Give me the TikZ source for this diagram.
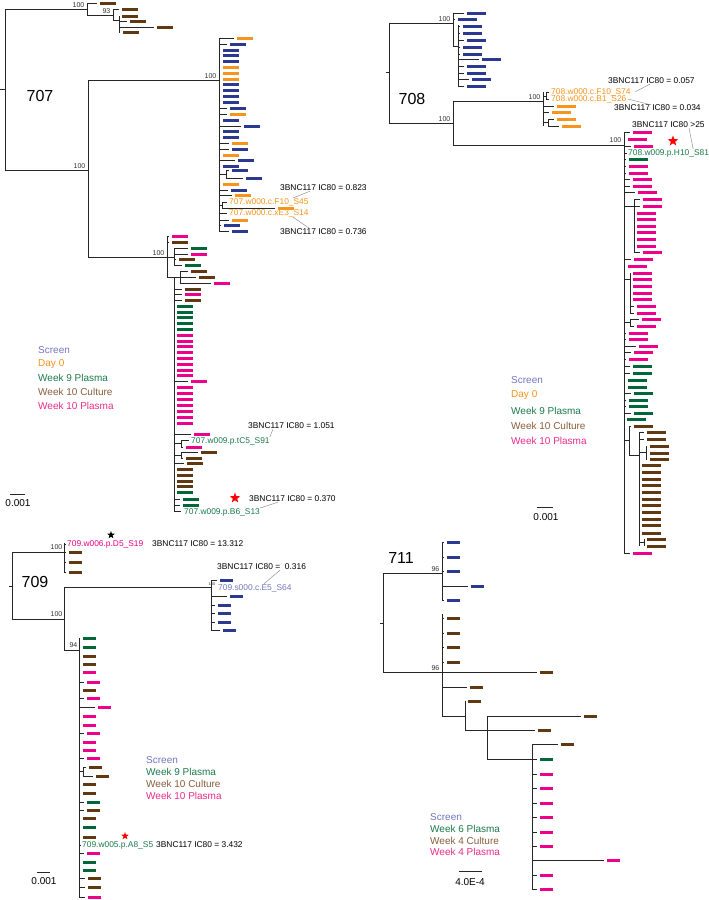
\documentclass[tikz,border=0pt]{standalone}
\usepackage{fontspec}
\setmainfont{Liberation Sans}
\usetikzlibrary{shapes.geometric}

\definecolor{blu}{RGB}{43,57,144}
\definecolor{orng}{RGB}{247,148,29}
\definecolor{grn}{RGB}{0,104,56}
\definecolor{brn}{RGB}{96,57,19}
\definecolor{pnk}{RGB}{236,0,140}
\definecolor{lscr}{RGB}{115,117,192}
\definecolor{lgrn}{RGB}{27,123,75}
\definecolor{lbrn}{RGB}{139,94,60}
\definecolor{lpnk}{RGB}{236,44,140}

\tikzset{
  br/.style={line width=0.9pt, black!85},
  seqbar/.style={line width=3pt, draw=#1},
  lead/.style={line width=0.4pt, gray},
  boot/.style={font=\fontsize{7}{8}\selectfont, anchor=south east, inner sep=0.5pt, black!80},
  seqlab/.style={font=\fontsize{8.4}{9}\selectfont, anchor=west, inner sep=0pt},
  ic/.style={font=\fontsize{8.4}{9}\selectfont, anchor=west, inner sep=0pt},
  leg/.style={font=\fontsize{10}{12}\selectfont, anchor=west, inner sep=0pt},
  pid/.style={font=\fontsize{16}{18}\selectfont, inner sep=0pt},
  sclab/.style={font=\fontsize{10}{12}\selectfont, inner sep=0pt},
  redstar/.style={star, star points=5, star point ratio=2.4, fill=red, inner sep=0pt, minimum size=#1},
}
\def\barlen{16}
% one tip: y, node x, bar start, colour
\newcommand{\lf}[4]{%
  \pgfmathsetmacro{\brend}{#3-3}%
  \ifdim\brend pt>#2pt \draw[br] (#2,#1) -- (\brend,#1);\fi
  \draw[seqbar=#4] (#3,#1) -- ++(\barlen,0);}

\begin{document}
\begin{tikzpicture}[x=1pt, y=-1pt]
    \fill[white] (0,0) rectangle (709,900);
    \useasboundingbox (0,0) rectangle (709,900);

    %%%%% 707
    \def\barlen{16}
    \draw[br] (0,89) -- (5,89);
    \draw[br] (5,9) -- (5,170);
    \draw[br] (5,9) -- (87,9);
    \node[boot] (b7a) at (85,8) {100};
    \draw[br] (87,3) -- (87,15);
    \lf{3}{87}{100}{brn}
    \draw[br] (87,15) -- (113,15);
    \node[boot] (b7b) at (111,14) {93};
    \draw[br] (113,9) -- (113,20);
    \lf{9}{113}{122}{brn}
    \draw[br] (113,20) -- (119,20);
    \draw[br] (119,16) -- (119,32);
    \foreach \y/\xb in {16/122, 21/130, 27/157, 32/123} {\lf{\y}{119}{\xb}{brn}}

    \draw[br] (5,170) -- (88,170);
    \node[boot] (b7c) at (86,169) {100};
    \draw[br] (88,80) -- (88,257);
    \draw[br] (88,80) -- (219,80);
    \node[boot] (b7d) at (217,79) {100};
    \draw[br] (219,38) -- (219,231);
    \foreach \y/\xb/\cl in {38/237/orng, 44/230/blu, 50/223/blu, 55/223/blu, 61/223/blu,
        67/223/orng, 73/223/orng, 79/223/orng, 84/223/blu, 90/223/blu, 96/223/blu,
        102/223/blu, 108/230/blu, 114/230/orng, 120/223/blu, 126/244/blu, 131/223/blu,
        137/223/blu, 143/232/orng, 149/232/blu, 155/223/orng, 160/238/blu, 166/223/blu,
        184/223/orng, 190/231/blu, 195/235/orng, 220/232/orng, 225/224/blu, 231/232/blu}
      {\lf{\y}{219}{\xb}{\cl}}
    \draw[br] (219,174) -- (226,174);
    \draw[br] (226,170) -- (226,178);
    \lf{170}{226}{232}{blu}
    \lf{178}{226}{246}{blu}
    \draw[br] (219,205) -- (222,205);
    \draw[br] (222,202) -- (222,208);
    \draw[br] (222,202) -- (227,202);
    \lf{208}{222}{278}{orng}
    \draw[br] (219,213) -- (227,213);
    \node[seqlab, orng] (s45) at (229,202) {707.w000.c.F10\_S45};
    \node[seqlab, orng] (s14) at (229,213) {707.w000.c.xE3\_S14};
    \node[ic] (ic45) at (280,188) {3BNC117 IC80 = 0.823};
    \node[ic] (ic14) at (280,232) {3BNC117 IC80 = 0.736};
    \draw[lead] ([xshift=30pt]ic45.south west) -- ([xshift=-16pt]s45.north east);
    \draw[lead] ([xshift=-16pt]s14.south east) -- ([xshift=30pt]ic14.north west);

    \draw[br] (88,257) -- (174,257);
    \node[boot] (b7e) at (165,256) {100};
    \draw[br] (167,236) -- (167,277);
    \lf{236}{167}{172}{pnk}
    \lf{242}{167}{172}{brn}
    \draw[br] (174,248) -- (174,265);
    \foreach \y/\xb/\cl in {248/191/grn, 254/191/pnk, 259/179/brn, 265/185/grn}
      {\lf{\y}{174}{\xb}{\cl}}
    \draw[br] (167,277) -- (180,277);
    \draw[br] (180,271) -- (180,283);
    \foreach \y/\xb/\cl in {271/191/brn, 277/199/brn, 283/214/pnk}
      {\lf{\y}{180}{\xb}{\cl}}
    \draw[br] (174,277) -- (174,511);
    \foreach \y/\xb/\cl in {289/185/brn, 294/185/pnk, 300/185/brn, 306/177/grn, 312/177/grn,
        317/177/grn, 323/177/grn, 329/177/grn, 335/177/pnk, 341/177/pnk, 346/177/pnk,
        352/177/pnk, 358/177/pnk, 364/177/pnk, 370/177/pnk, 375/177/pnk, 381/191/pnk,
        387/177/pnk, 393/177/pnk, 399/177/pnk, 405/177/pnk, 411/177/pnk, 417/177/pnk,
        423/177/pnk, 434/194/pnk, 463/187/brn, 469/177/brn, 475/177/brn, 481/177/brn,
        486/177/brn, 492/177/grn, 499/183/grn, 505/183/grn}
      {\lf{\y}{174}{\xb}{\cl}}
    \draw[br] (174,443) -- (181,443);
    \draw[br] (181,440) -- (181,447);
    \draw[br] (181,440) -- (189,440);
    \lf{447}{181}{186}{pnk}
    \draw[br] (174,455) -- (181,455);
    \draw[br] (181,452) -- (181,458);
    \lf{452}{181}{201}{brn}
    \lf{458}{181}{186}{brn}
    \draw[br] (174,511) -- (181,511);
    \node[seqlab, lgrn] (s91) at (191,441) {707.w009.p.tC5\_S91};
    \node[seqlab, lgrn] (s13) at (184,512) {707.w009.p.B6\_S13};
    \node[ic] (ic91) at (248,426) {3BNC117 IC80 = 1.051};
    \node[ic] (ic13) at (249,499) {3BNC117 IC80 = 0.370};
    \node[redstar=11pt] (st13) at (235,498) {};
    \draw[lead] ([xshift=25pt]ic91.south west) -- (s91.north east);
    \draw[lead] ([xshift=29pt]ic13.south west) -- (s13.north east);

    \node[pid] (p707) at (40,96) {707};
    \node[leg, lscr] (g7a) at (38,350) {Screen};
    \node[leg, orng] (g7b) at (38,364) {Day 0};
    \node[leg, lgrn] (g7c) at (38,378) {Week 9 Plasma};
    \node[leg, lbrn] (g7d) at (38,392) {Week 10 Culture};
    \node[leg, lpnk] (g7e) at (38,406) {Week 10 Plasma};
    \draw[br] (10,494) -- (25,494);
    \node[sclab] (sc707) at (18,503) {0.001};

    %%%%% 708
    \def\barlen{19}
    \draw[br] (386,72) -- (389,72);
    \draw[br] (389,23) -- (389,123);
    \draw[br] (389,23) -- (453,23);
    \node[boot] (b8a) at (451,22) {100};
    \draw[br] (453,13) -- (453,46);
    \lf{13}{453}{467}{blu}
    \lf{19}{453}{458}{blu}
    \draw[br] (453,46) -- (458,46);
    \draw[br] (458,25) -- (458,87);
    \foreach \y/\xb in {26/463, 33/463, 40/467, 47/463, 54/463, 59/482, 66/467, 73/467, 79/472, 86/467}
      {\lf{\y}{458}{\xb}{blu}}

    \draw[br] (389,123) -- (453,123);
    \node[boot] (b8b) at (451,122) {100};
    \draw[br] (453,101) -- (453,145);
    \draw[br] (453,101) -- (543,101);
    \node[boot] (b8c) at (541,100) {100};
    \draw[br] (543,92) -- (543,126);
    \draw[br] (543,96) -- (546,96);
    \draw[br] (546,92) -- (546,100);
    \draw[br] (546,92) -- (549,92);
    \draw[br] (546,99) -- (549,99);
    \lf{106}{543}{557}{orng}
    \lf{112}{543}{552}{orng}
    \draw[br] (543,122) -- (548,122);
    \draw[br] (548,119) -- (548,126);
    \lf{119}{548}{557}{orng}
    \lf{126}{548}{562}{orng}
    \node[seqlab, orng] (s74) at (551,92) {708.w000.c.F10\_S74};
    \node[seqlab, orng] (s26) at (551,99) {708.w000.c.B1\_S26};
    \node[ic] (ic74) at (608,81) {3BNC117 IC80 = 0.057};
    \node[ic] (ic26) at (614,108) {3BNC117 IC80 = 0.034};
    \draw[lead] ([xshift=42pt]ic74.south west) -- ([xshift=4pt]s74.east);
    \draw[lead] ([xshift=1pt]s26.east) -- ([xshift=37pt]ic26.north west);

    \draw[br] (453,145) -- (624,145);
    \node[boot] (b8d) at (622,143) {100};
    \draw[br] (624,132) -- (624,553);
    \foreach \y/\xb/\cl in {132/633/pnk, 139/628/pnk, 146/634/pnk, 159/629/grn, 166/629/pnk,
        173/629/pnk, 179/633/pnk, 186/633/pnk, 192/638/pnk, 259/634/pnk, 266/628/pnk,
        333/629/pnk, 339/629/pnk, 346/639/pnk, 352/634/pnk, 359/629/pnk, 366/633/grn,
        373/633/grn, 380/628/grn, 387/628/grn, 393/634/grn, 400/629/grn, 406/629/grn,
        413/634/grn, 419/627/grn, 553/633/pnk}
      {\lf{\y}{624}{\xb}{\cl}}
    \draw[br] (624,153) -- (627,153);
    \draw[br] (624,206) -- (634,206);
    \draw[br] (634,199) -- (634,252);
    \foreach \y/\xb in {199/643, 206/643, 213/637, 219/637, 226/637, 232/637, 239/637, 246/637, 252/643}
      {\lf{\y}{634}{\xb}{pnk}}
    \draw[br] (624,279) -- (630,279);
    \draw[br] (630,273) -- (630,313);
    \foreach \y/\xb in {273/633, 279/633, 286/633, 293/633, 299/633, 306/637, 313/637}
      {\lf{\y}{630}{\xb}{pnk}}
    \draw[br] (624,322) -- (630,322);
    \draw[br] (630,319) -- (630,326);
    \lf{319}{630}{642}{pnk}
    \lf{326}{630}{637}{pnk}
    \draw[br] (624,440) -- (629,440);
    \draw[br] (629,426) -- (629,455);
    \lf{426}{629}{634}{brn}
    \draw[br] (629,455) -- (639,455);
    \draw[br] (639,432) -- (639,546);
    \foreach \y/\xb in {432/647, 439/647, 465/642, 472/642, 479/642, 485/642, 492/642,
        499/642, 505/642, 512/642, 519/642, 525/642, 533/642}
      {\lf{\y}{639}{\xb}{brn}}
    \draw[br] (639,452) -- (646,452);
    \draw[br] (646,446) -- (646,459);
    \foreach \y in {446, 453, 459} {\lf{\y}{646}{650}{brn}}
    \draw[br] (639,542) -- (644,542);
    \draw[br] (644,539) -- (644,546);
    \foreach \y in {539, 546} {\lf{\y}{644}{647}{brn}}
    \node[seqlab, lgrn] (s81) at (628,153) {708.w009.p.H10\_S81};
    \node[ic] (ic81) at (632,125) {3BNC117 IC80 >25};
    \node[redstar=11pt] (st81) at (673,141) {};
    \draw[lead] ([xshift=57pt]ic81.south west) -- ([xshift=-16pt]s81.north east);

    \node[pid] (p708) at (412,99) {708};
    \node[leg, lscr] (g8a) at (511,380) {Screen};
    \node[leg, orng] (g8b) at (511,395) {Day 0};
    \node[leg, lgrn] (g8c) at (511,411) {Week 9 Plasma};
    \node[leg, lbrn] (g8d) at (511,426) {Week 10 Culture};
    \node[leg, lpnk] (g8e) at (511,441) {Week 10 Plasma};
    \draw[br] (537,507) -- (553,507);
    \node[sclab] (sc708) at (546,517) {0.001};

    %%%%% 709
    \def\barlen{13}
    \draw[br] (9,586) -- (12,586);
    \draw[br] (12,552) -- (12,619);
    \draw[br] (12,552) -- (64,552);
    \node[boot] (b9a) at (63,550) {100};
    \draw[br] (64,543) -- (64,572);
    \draw[br] (64,544) -- (66,544);
    \foreach \y in {552, 562, 572} {\lf{\y}{64}{69}{brn}}
    \node[seqlab, pnk] (s19) at (67,544) {709.w006.p.D5\_S19};
    \node[star, star points=5, star point ratio=2.4, fill=black, inner sep=0pt, minimum size=8pt] (st19) at (111,535) {};
    \node[ic] (ic19) at (152,544) {3BNC117 IC80 = 13.312};

    \draw[br] (64,587) -- (211,587);
    \node[boot, font=\fontsize{4}{5}\selectfont] (b9b) at (216,586) {100};
    \draw[br] (211,580) -- (211,630);
    \foreach \y/\xb in {580/220, 596/230, 605/218, 613/218, 622/218, 630/223}
      {\lf{\y}{211}{\xb}{blu}}
    \node[seqlab, lscr] (s64) at (218,588) {709.s000.c.E5\_S64};
    \node[ic] (ic64) at (217,567) {3BNC117 IC80 =\ \ 0.316};
    \draw[lead] ([xshift=63pt]ic64.south west) -- ([xshift=-28pt]s64.north east);

    \draw[br] (12,619) -- (64,619);
    \node[boot] (b9c) at (63,617) {100};
    \draw[br] (64,587) -- (64,650);
    \draw[br] (64,650) -- (79,650);
    \node[boot] (b9d) at (78,648) {94};
    \draw[br] (79,638) -- (79,897);
    \foreach \y/\xb/\cl in {638/83/grn, 647/83/grn, 656/83/brn, 664/83/brn, 672/83/pnk,
        682/87/pnk, 690/83/brn, 698/87/pnk, 707/98/pnk, 716/83/pnk, 725/83/pnk,
        733/87/pnk, 742/83/pnk, 750/83/pnk, 758/87/pnk, 784/83/brn, 793/83/brn,
        802/87/grn, 810/87/brn, 818/83/brn, 827/83/grn, 837/83/brn, 853/87/pnk,
        862/83/grn, 870/83/grn, 878/88/brn, 887/88/brn, 897/88/pnk}
      {\lf{\y}{79}{\xb}{\cl}}
    \draw[br] (79,771) -- (83,771);
    \draw[br] (83,767) -- (83,776);
    \lf{767}{83}{89}{brn}
    \lf{776}{83}{96}{brn}
    \draw[br] (79,845) -- (81,845);
    \node[seqlab, lgrn] (s5) at (82,845) {709.w005.p.A8\_S5};
    \node[redstar=8pt] (st5) at (125,836) {};
    \node[ic] (ic5) at (156,845) {3BNC117 IC80 = 3.432};

    \node[pid] (p709) at (35,582) {709};
    \node[leg, lscr] (g9a) at (146,760) {Screen};
    \node[leg, lgrn] (g9b) at (146,772) {Week 9 Plasma};
    \node[leg, lbrn] (g9c) at (146,784) {Week 10 Culture};
    \node[leg, lpnk] (g9d) at (146,796) {Week 10 Plasma};
    \draw[br] (37,872) -- (50,872);
    \node[sclab] (sc709) at (44,881) {0.001};

    %%%%% 711
    \draw[br] (380,623) -- (383,623);
    \draw[br] (383,573) -- (383,672);
    \draw[br] (383,573) -- (442,573);
    \node[boot] (b1a) at (440,572) {96};
    \draw[br] (442,542) -- (442,600);
    \foreach \y/\xb in {542/447, 557/447, 571/447, 586/471, 600/447}
      {\lf{\y}{442}{\xb}{blu}}
    \draw[br] (383,672) -- (442,672);
    \node[boot] (b1b) at (440,671) {96};
    \draw[br] (442,614) -- (442,716);
    \foreach \y/\xb in {618/447, 633/447, 647/447, 662/447, 672/540, 687/470}
      {\lf{\y}{442}{\xb}{brn}}
    \draw[br] (442,716) -- (465,716);
    \draw[br] (465,701) -- (465,730);
    \lf{701}{465}{468}{brn}
    \lf{730}{465}{538}{brn}
    \draw[br] (487,716) -- (487,759);
    \lf{716}{487}{584}{brn}
    \draw[br] (487,759) -- (532,759);
    \draw[br] (532,744) -- (532,889);
    \foreach \y/\xb/\cl in {744/561/brn, 759/540/grn, 774/540/pnk, 788/540/pnk, 803/540/pnk,
        817/540/pnk, 832/540/pnk, 846/540/pnk, 860/607/pnk, 875/540/pnk, 889/540/pnk}
      {\lf{\y}{532}{\xb}{\cl}}

    \node[pid] (p711) at (401,558) {711};
    \node[leg, lscr] (g1a) at (430,817) {Screen};
    \node[leg, lgrn] (g1b) at (430,829) {Week 6 Plasma};
    \node[leg, lbrn] (g1c) at (430,841) {Week 4 Culture};
    \node[leg, lpnk] (g1d) at (430,852) {Week 4 Plasma};
    \draw[br] (459,871) -- (482,871);
    \node[sclab] (sc711) at (470,882) {4.0E-4};
\end{tikzpicture}
\end{document}
